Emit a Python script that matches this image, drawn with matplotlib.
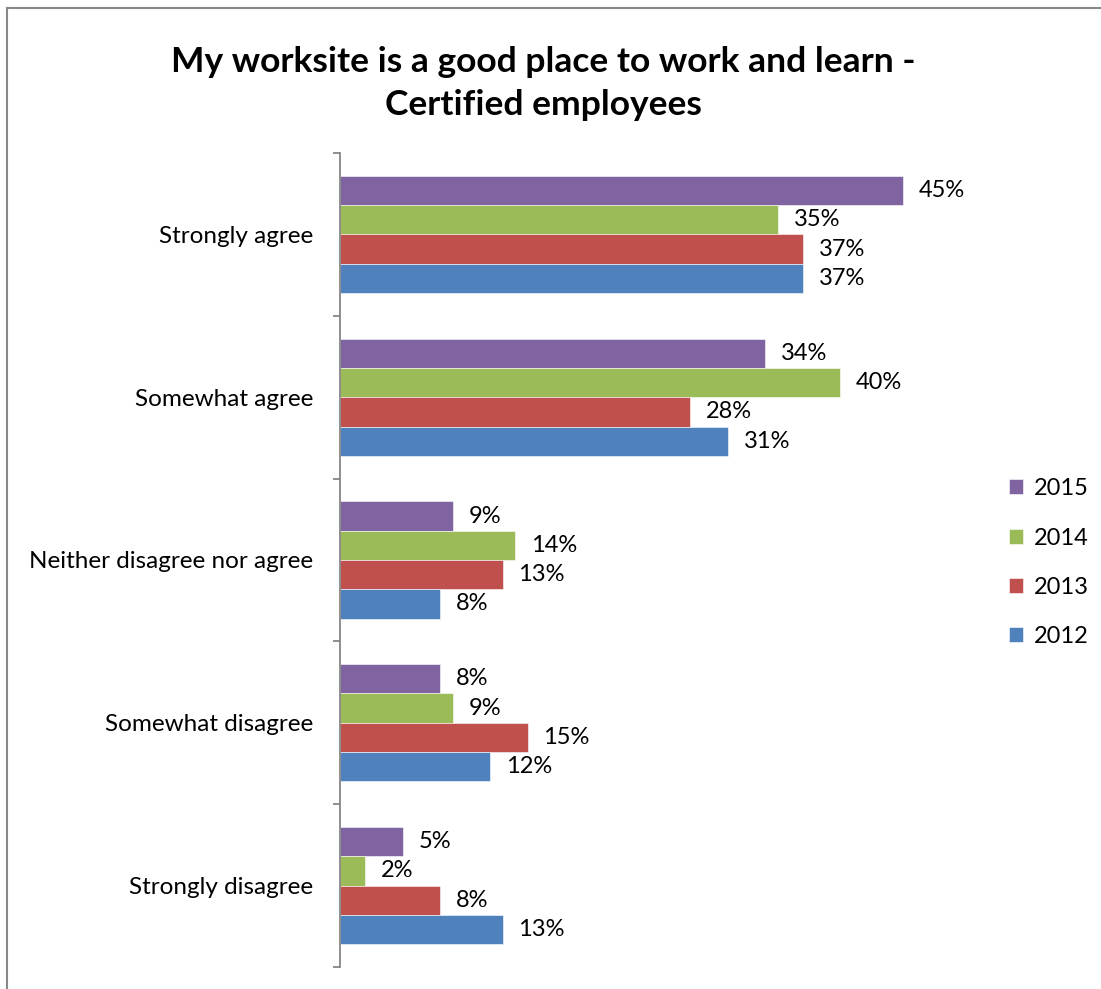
import numpy as np
import matplotlib.pyplot as plt
from matplotlib.patches import Rectangle

plt.rcParams['font.family'] = ['Lato', 'DejaVu Sans']

categories = ['Strongly agree', 'Somewhat agree', 'Neither disagree nor agree',
              'Somewhat disagree', 'Strongly disagree']
years = ['2015', '2014', '2013', '2012']
values = {
    '2015': [45, 34, 9, 8, 5],
    '2014': [35, 40, 14, 9, 2],
    '2013': [37, 28, 13, 15, 8],
    '2012': [37, 31, 8, 12, 13],
}
colors = {'2015': '#8064A2', '2014': '#9BBB59', '2013': '#C0504D', '2012': '#4F81BD'}

fig = plt.figure(figsize=(11.01, 9.89), dpi=100)
ax = fig.add_axes([340 / 1101, 1 - 967 / 989, 625 / 1101, (967 - 153) / 989])

y = np.arange(len(categories))
h = 0.18
handles = []
for i, yr in enumerate(years):
    pos = y + (i - 1.5) * h
    bars = ax.barh(pos, values[yr], height=h, color=colors[yr],
                   edgecolor='white', linewidth=0.4, label=yr)
    handles.append(bars)
    for p, v in zip(pos, values[yr]):
        ax.annotate(f'{v}%', xy=(v, p), xytext=(11.5, 0), textcoords='offset points',
                    va='center', ha='left', fontsize=17)

ax.set_xlim(0, 50)
ax.set_ylim(len(categories) - 0.5, -0.5)
ax.set_yticks(y)
ax.set_yticklabels(categories, fontsize=17.5)
ax.tick_params(axis='y', which='major', length=0, pad=19)
ax.set_yticks(np.arange(-0.5, len(categories)), minor=True)
ax.tick_params(axis='y', which='minor', length=5, width=1.3, color='#868686')
ax.set_xticks([])
for s in ['top', 'right', 'bottom']:
    ax.spines[s].set_visible(False)
ax.spines['left'].set_color('#868686')
ax.spines['left'].set_linewidth(1.3)

fig.legend(handles=handles, labels=years, loc='upper left',
           bbox_to_anchor=(988 / 1101, 1 - 457 / 989), frameon=False,
           fontsize=17, handlelength=0.6, handleheight=0.6,
           handletextpad=0.45, labelspacing=1.2)

fig.text(543 / 1101, 1 - 62 / 989, 'My worksite is a good place to work and learn -',
         ha='center', va='center', fontsize=25.5, fontweight='bold')
fig.text(543 / 1101, 1 - 105 / 989, 'Certified employees',
         ha='center', va='center', fontsize=25.5, fontweight='bold')

fig.patches.append(Rectangle((7 / 1101, -0.1), 1.2, 1 - 8 / 989 + 0.1,
                             transform=fig.transFigure, fill=False,
                             edgecolor='#888888', linewidth=1.5))

fig.savefig('out.png', dpi=100)
